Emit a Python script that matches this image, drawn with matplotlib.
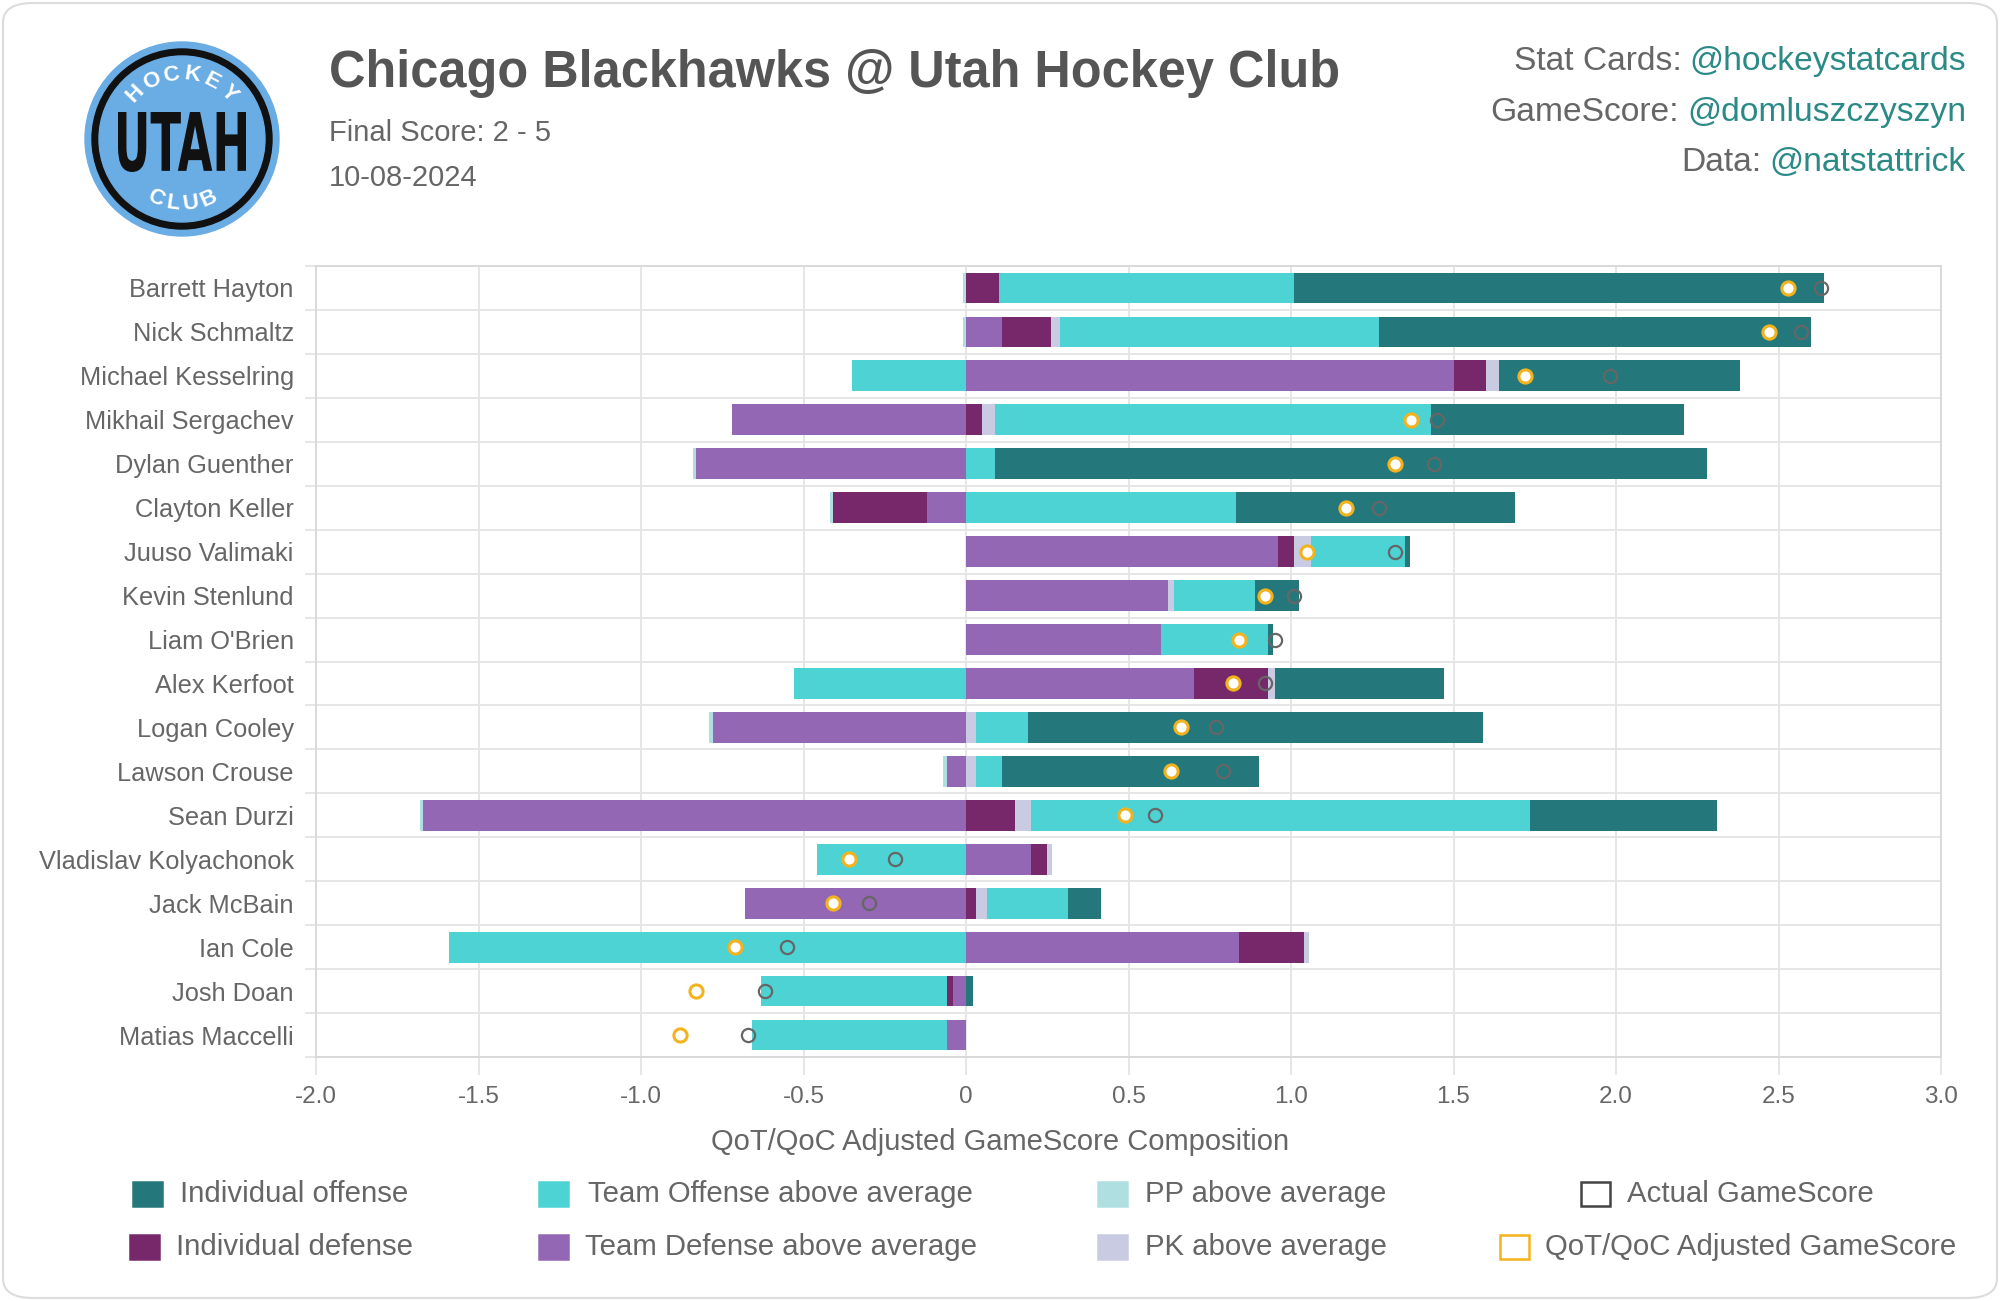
import matplotlib
matplotlib.use("Agg")
import matplotlib.pyplot as plt
import numpy as np
from matplotlib.patches import Rectangle, Circle, FancyBboxPatch, PathPatch
from matplotlib.textpath import TextPath
from matplotlib.font_manager import FontProperties
from matplotlib.transforms import Affine2D

plt.rcParams['font.family'] = ['Liberation Sans', 'DejaVu Sans']

# ---------------- data ----------------
players = ["Barrett Hayton", "Nick Schmaltz", "Michael Kesselring", "Mikhail Sergachev",
           "Dylan Guenther", "Clayton Keller", "Juuso Valimaki", "Kevin Stenlund",
           "Liam O'Brien", "Alex Kerfoot", "Logan Cooley", "Lawson Crouse", "Sean Durzi",
           "Vladislav Kolyachonok", "Jack McBain", "Ian Cole", "Josh Doan", "Matias Maccelli"]

team_defense = [0.00, 0.11, 1.50, -0.72, -0.83, -0.12, 0.96, 0.62, 0.60, 0.70,
                -0.78, -0.06, -1.67, 0.20, -0.68, 0.84, -0.04, -0.06]
individual_defense = [0.10, 0.15, 0.10, 0.05, 0.00, -0.29, 0.05, 0.00, 0.00, 0.23,
                      0.00, 0.00, 0.15, 0.05, 0.03, 0.20, -0.02, 0.00]
pk_above_avg = [0.00, 0.03, 0.04, 0.04, 0.00, 0.00, 0.05, 0.02, 0.00, 0.02,
                0.03, 0.03, 0.05, 0.015, 0.035, 0.015, 0.00, 0.00]
pp_above_avg = [-0.01, -0.01, 0.00, 0.00, -0.01, -0.01, 0.00, 0.00, 0.00, 0.00,
                -0.01, -0.01, -0.01, 0.00, 0.00, 0.00, 0.00, 0.00]
team_offense = [0.91, 0.98, -0.35, 1.34, 0.09, 0.83, 0.29, 0.25, 0.33, -0.53,
                0.16, 0.08, 1.535, -0.46, 0.25, -1.59, -0.57, -0.60]
individual_offense = [1.63, 1.33, 0.74, 0.78, 2.19, 0.86, 0.015, 0.135, 0.016, 0.52,
                      1.40, 0.79, 0.575, 0.00, 0.10, 0.00, 0.02, 0.00]
actual_gamescore = [2.63, 2.57, 1.98, 1.45, 1.44, 1.27, 1.32, 1.01, 0.95, 0.92,
                    0.77, 0.79, 0.58, -0.22, -0.30, -0.55, -0.62, -0.67]
adjusted_gamescore = [2.53, 2.47, 1.72, 1.37, 1.32, 1.17, 1.05, 0.92, 0.84, 0.82,
                      0.66, 0.63, 0.49, -0.36, -0.41, -0.71, -0.83, -0.88]

x_ticks = [-2.0, -1.5, -1.0, -0.5, 0.0, 0.5, 1.0, 1.5, 2.0, 2.5, 3.0]
x_tick_labels = ["-2.0", "-1.5", "-1.0", "-0.5", "0", "0.5", "1.0", "1.5", "2.0", "2.5", "3.0"]

title = "Chicago Blackhawks @ Utah Hockey Club"
subtitle1 = "Final Score: 2 - 5"
subtitle2 = "10-08-2024"
credits = [("Stat Cards:", "@hockeystatcards"), ("GameScore:", "@domluszczyszyn"), ("Data:", "@natstattrick")]

# ---------------- style ----------------
C_IND_OFF = '#24787b'
C_TEAM_OFF = '#4dd3d4'
C_PP = '#b0dfe2'
C_IND_DEF = '#77286a'
C_TEAM_DEF = '#9467b5'
C_PK = '#c9cbe2'
C_ACTUAL = '#666666'
C_ADJ = '#f2b31f'
TXT = '#666666'
TEAL = '#2b8a86'
GRID = '#e4e4e4'

W, H = 2000, 1301
fig = plt.figure(figsize=(W / 100, H / 100), dpi=100)
fig.patch.set_facecolor('white')

# card border
card = FancyBboxPatch((3 / W, 3 / H), 1 - 6 / W, 1 - 6 / H,
                      boxstyle="round,pad=0,rounding_size=0.015",
                      transform=fig.transFigure, facecolor='white',
                      edgecolor='#dcdcdc', linewidth=1.5, zorder=-10)
fig.patches.append(card)

# ---------------- main axes ----------------
AX_L, AX_R, AX_T, AX_B = 316, 1941, 266, 1057
ax = fig.add_axes([AX_L / W, 1 - AX_B / H, (AX_R - AX_L) / W, (AX_B - AX_T) / H])
n = len(players)
y = np.arange(n)

series = [
    (team_defense, C_TEAM_DEF),
    (individual_defense, C_IND_DEF),
    (pk_above_avg, C_PK),
    (pp_above_avg, C_PP),
    (team_offense, C_TEAM_OFF),
    (individual_offense, C_IND_OFF),
]
pos_cum = np.zeros(n)
neg_cum = np.zeros(n)
for vals, col in series:
    v = np.asarray(vals, dtype=float)
    left = np.where(v >= 0, pos_cum, neg_cum)
    ax.barh(y, v, left=left, height=0.7, color=col, linewidth=0, zorder=2)
    pos_cum = pos_cum + np.where(v > 0, v, 0)
    neg_cum = neg_cum + np.where(v < 0, v, 0)

ax.plot(actual_gamescore, y, 'o', mfc='none', mec=C_ACTUAL, ms=9.5, mew=1.6, zorder=4)
ax.plot(adjusted_gamescore, y, 'o', mfc='white', mec=C_ADJ, ms=9.5, mew=2.2, zorder=5)

ax.set_xlim(-2.0, 3.0)
ax.set_ylim(n - 0.5, -0.5)
ax.set_xticks(x_ticks)
ax.set_xticklabels(x_tick_labels)
ax.set_yticks(y)
ax.set_yticklabels(players)
ax.set_yticks(np.arange(-0.5, n, 1.0), minor=True)
ax.set_axisbelow(True)
ax.grid(axis='x', which='major', color=GRID, linewidth=1.3)
ax.grid(axis='y', which='minor', color=GRID, linewidth=1.3)
ax.grid(axis='y', which='major', visible=False)
ax.tick_params(axis='x', which='major', length=13, color=GRID, width=1.3,
               labelsize=17.5, labelcolor=TXT, pad=8)
ax.tick_params(axis='y', which='major', length=0, labelsize=18.3, labelcolor=TXT, pad=16)
ax.tick_params(axis='y', which='minor', length=8, color=GRID, width=1.3)
for s in ax.spines.values():
    s.set_color('#d8d8d8')
    s.set_linewidth(1.3)
ax.set_xlabel("QoT/QoC Adjusted GameScore Composition", fontsize=21, color=TXT, labelpad=14)
ax.xaxis.label.set_x((1000 - AX_L) / (AX_R - AX_L))

# ---------------- legend (manual) ----------------
legend_items = [
    ("Individual offense", C_IND_OFF, C_IND_OFF, 133, 1194, 180),
    ("Team Offense above average", C_TEAM_OFF, C_TEAM_OFF, 539, 1194, 588),
    ("PP above average", C_PP, C_PP, 1098, 1194, 1145),
    ("Actual GameScore", 'white', '#444444', 1581, 1194, 1627),
    ("Individual defense", C_IND_DEF, C_IND_DEF, 130, 1247, 176),
    ("Team Defense above average", C_TEAM_DEF, C_TEAM_DEF, 539, 1247, 585),
    ("PK above average", C_PK, C_PK, 1098, 1247, 1145),
    ("QoT/QoC Adjusted GameScore", 'white', C_ADJ, 1500, 1247, 1545),
]
for label, fc, ec, bx, by, tx in legend_items:
    r = Rectangle((bx / W, 1 - (by + 12) / H), 29 / W, 24 / H, transform=fig.transFigure,
                  facecolor=fc, edgecolor=ec, linewidth=1.8)
    fig.patches.append(r)
    fig.text(tx / W, 1 - by / H, label, fontsize=21.2, color=TXT, ha='left', va='center')

# ---------------- header ----------------
fig.text(329 / W, 1 - 73 / H, title, fontsize=36.4, fontweight='bold', color='#555555',
         ha='left', va='center')
fig.text(329 / W, 1 - 133 / H, subtitle1, fontsize=21, color=TXT, ha='left', va='center')
fig.text(329 / W, 1 - 178 / H, subtitle2, fontsize=21, color=TXT, ha='left', va='center')

for (pre, handle), yy in zip(credits, [70, 121, 171]):
    t = fig.text(1966 / W, 1 - yy / H, handle, fontsize=24.2, color=TEAL, ha='right', va='baseline')
    ax.annotate(pre, xy=(0, 1 - yy / H), xycoords=(t, 'figure fraction'),
                xytext=(-8, 0), textcoords='offset pixels',
                fontsize=24.2, color=TXT, ha='right', va='baseline', annotation_clip=False)

# ---------------- logo ----------------
lax = fig.add_axes([82 / W, 1 - 239 / H, 200 / W, 200 / H])
lax.set_xlim(-100, 100)
lax.set_ylim(-100, 100)
lax.set_aspect('equal')
lax.axis('off')
lax.add_patch(Circle((0, 0), 97, color='#6aace4', zorder=1))
lax.add_patch(Circle((0, 0), 90, color='#111111', zorder=2))
lax.add_patch(Circle((0, 0), 83, color='#6aace4', zorder=3))

fp = FontProperties(family='DejaVu Sans', weight='bold')
tp = TextPath((0, 0), "UTAH", size=60, prop=fp)
bb = tp.get_extents()
tr = (Affine2D().translate(-(bb.x0 + bb.width / 2), -(bb.y0 + bb.height / 2))
      .scale(128 / bb.width, 60 / bb.height).translate(0, -3))
lax.add_patch(PathPatch(tr.transform_path(tp), color='#111111', lw=0, zorder=4))

for ch, ang in zip("HOCKEY", np.linspace(136, 44, 6)):
    a = np.deg2rad(ang)
    lax.text(65 * np.cos(a), 65 * np.sin(a), ch, fontsize=16, fontweight='bold',
             color='white', ha='center', va='center', rotation=ang - 90,
             rotation_mode='anchor', zorder=5)
for ch, ang in zip("CLUB", np.linspace(246, 294, 4)):
    a = np.deg2rad(ang)
    lax.text(65 * np.cos(a), 65 * np.sin(a), ch, fontsize=16, fontweight='bold',
             color='white', ha='center', va='center', rotation=ang + 90,
             rotation_mode='anchor', zorder=5)

fig.savefig("out.png", dpi=100, facecolor='white')
